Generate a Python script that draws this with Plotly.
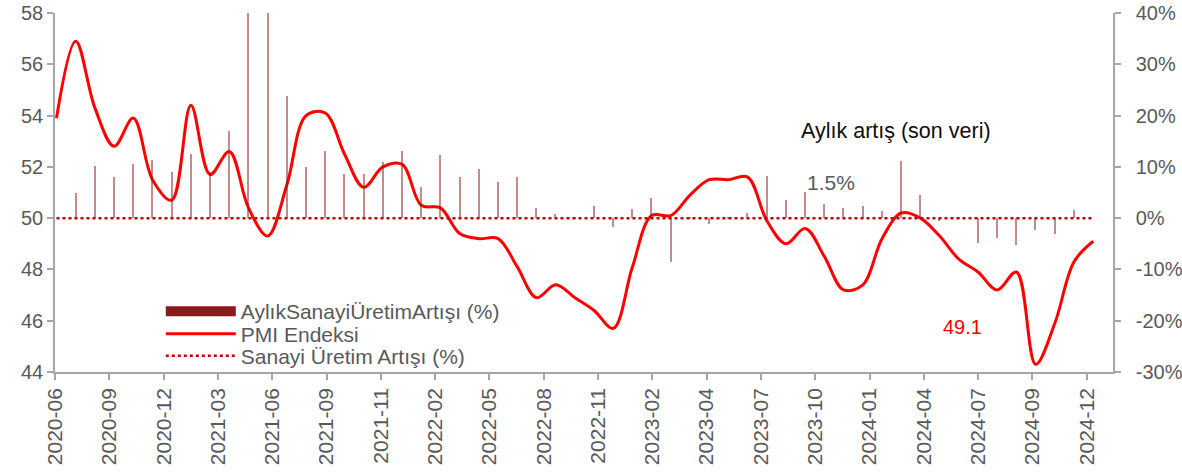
import plotly.graph_objects as go
import numpy as np

months = [f"{y}-{m:02d}" for y in range(2020, 2025) for m in range(1, 13)]
months = months[months.index("2020-06"):months.index("2024-12") + 1]

pmi = [53.9, 56.9, 54.3, 52.8, 53.9, 51.5, 50.7, 54.4, 51.7, 52.6,
       50.4, 49.3, 51.3, 54.0, 54.1, 52.5, 51.2, 52.0, 52.1, 50.5,
       50.4, 49.4, 49.2, 49.2, 48.1, 46.9, 47.4, 46.9, 46.4, 45.7,
       48.1, 50.1, 50.1, 50.9, 51.5, 51.5, 51.6, 49.9, 49.0, 49.6,
       48.5, 47.2, 47.4, 49.2, 50.2, 50.0, 49.3, 48.4, 47.9, 47.2,
       47.9, 44.3, 45.9, 48.3, 49.1]

growth = [None, 4.9, 10.1, 8.1, 10.5, 11.3, 9.0, 12.5, 9.0, 17.0,
          45.0, 44.0, 23.9, 9.9, 13.1, 8.7, 8.7, 10.9, 13.1, 6.0,
          12.3, 8.1, 9.5, 7.0, 8.1, 2.0, 0.9, 0.2, 2.3, -1.7,
          1.8, 4.0, -8.6, 0.2, -1.2, 0.3, 1.0, 8.2, 3.6, 5.1,
          2.7, 2.0, 2.3, 1.4, 11.2, 4.5, -0.6, 0.2, -4.9, -3.8,
          -5.2, -2.3, -3.0, 1.5, None]

threshold = [50] * len(months)

tick_labels = ["2020-06", "2020-09", "2020-12", "2021-03", "2021-06", "2021-09",
               "2021-11", "2022-02", "2022-05", "2022-08", "2022-11", "2023-02",
               "2023-04", "2023-07", "2023-10", "2024-01", "2024-04", "2024-07",
               "2024-09", "2024-12"]

right_ticks = [-30, -20, -10, 0, 10, 20, 30, 40]
right_labels = [f"{v}%" for v in right_ticks]

x = list(range(len(months)))
tick_pos = list(np.linspace(-0.07, 53.66, len(tick_labels)))

FONT = "Liberation Sans, Arial, sans-serif"
GRAY = "#595959"
AXIS = "#A6A6A6"

fig = go.Figure()

fig.add_trace(go.Bar(
    x=x, y=growth, yaxis="y2", width=0.07,
    marker=dict(color="#8B1A1A", line=dict(width=0)), opacity=0.5,
    name="AylıkSanayiÜretimArtışı (%)", showlegend=False,
))
# legend entry for bar series
fig.add_trace(go.Scatter(
    x=[None], y=[None], mode="lines",
    line=dict(color="#8B1A1A", width=11),
    name="AylıkSanayiÜretimArtışı (%)", legend="legend",
))
fig.add_trace(go.Scatter(
    x=x, y=pmi, mode="lines",
    line=dict(color="#FF0000", width=3, shape="spline", smoothing=1.0),
    name="PMI Endeksi", legend="legend2",
))
fig.add_trace(go.Scatter(
    x=x, y=threshold, mode="lines",
    line=dict(color="#C00000", width=2.5, dash="dot"),
    name="Sanayi Üretim Artışı (%)", legend="legend3",
))

fig.add_annotation(x=43.72, y=17, xref="x", yref="y2", text="Aylık artış (son veri)",
                   showarrow=False, font=dict(size=21.5, color="#0D0D0D", family=FONT))
fig.add_annotation(x=40.36, y=7.0, xref="x", yref="y2", text="1.5%",
                   showarrow=False, font=dict(size=21, color=GRAY, family=FONT))
fig.add_annotation(x=47.21, y=45.75, xref="x", yref="y", text="49.1",
                   showarrow=False, font=dict(size=20, color="#FF0000", family=FONT))

leg_common = dict(x=0.1, xanchor="left", yanchor="middle", bgcolor="rgba(0,0,0,0)",
                  itemwidth=70, font=dict(size=21, color=GRAY, family=FONT))

fig.update_layout(
    width=1182, height=472,
    margin=dict(l=55, r=69, t=13, b=100, autoexpand=False),
    plot_bgcolor="white", paper_bgcolor="white",
    font=dict(family=FONT, size=20, color=GRAY),
    bargap=0,
    xaxis=dict(
        range=[-0.078, 55.03], tickmode="array", tickvals=tick_pos, ticktext=tick_labels,
        tickangle=-90, showgrid=False, zeroline=False, automargin=False,
        showline=True, linecolor=AXIS, linewidth=1.5,
        ticks="outside", ticklen=6, tickcolor=AXIS, tickwidth=1.5,
        tickfont=dict(size=21, color=GRAY, family=FONT),
        ticklabeloverflow="allow",
    ),
    yaxis=dict(
        range=[44, 58], dtick=2, showgrid=False, zeroline=False, automargin=False,
        showline=True, linecolor=AXIS, linewidth=1.5,
        ticks="outside", ticklen=6, tickcolor=AXIS, tickwidth=1.5,
        tickfont=dict(size=20, color=GRAY, family=FONT),
        ticklabeloverflow="allow",
    ),
    yaxis2=dict(
        range=[-30, 40], tickmode="array", tickvals=right_ticks, ticktext=right_labels,
        overlaying="y", side="right", automargin=False,
        showgrid=False, zeroline=False,
        showline=True, linecolor=AXIS, linewidth=1.5,
        ticks="outside", ticklen=6, tickcolor=AXIS, tickwidth=1.5,
        tickfont=dict(size=20, color=GRAY, family=FONT),
        ticklabelstandoff=11, ticklabeloverflow="allow",
    ),
    legend=dict(y=0.1685, **leg_common),
    legend2=dict(y=0.1058, **leg_common),
    legend3=dict(y=0.0446, **leg_common),
    showlegend=True,
)

fig.write_html("out.html", config={"displayModeBar": False},
               post_script="document.body.style.margin='0';")
